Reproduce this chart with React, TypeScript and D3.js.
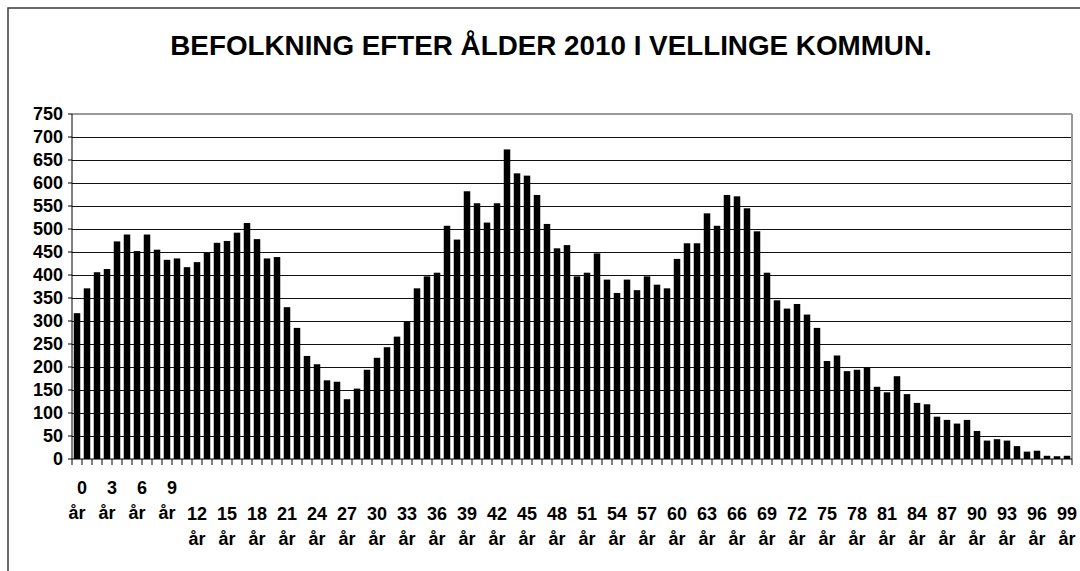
import React from "react";
import * as d3 from "d3";

const title = "BEFOLKNING EFTER ÅLDER 2010 I VELLINGE KOMMUN.";
const ages: number[] = d3.range(0, 100);
const categories: string[] = ages.map((a) => `${a} år`);
const population: number[] = [
  317, 371, 406, 413, 473, 488, 452, 488, 455, 433,
  436, 417, 428, 448, 470, 474, 492, 513, 478, 436,
  439, 330, 285, 224, 206, 171, 168, 130, 153, 194,
  220, 243, 266, 300, 371, 397, 405, 507, 477, 582,
  556, 514, 556, 673, 621, 616, 574, 511, 458, 465,
  397, 405, 447, 390, 361, 390, 367, 397, 379, 371,
  435, 469, 469, 534, 507, 574, 571, 545, 495, 405,
  345, 327, 337, 314, 285, 213, 225, 191, 194, 199,
  157, 145, 180, 141, 122, 119, 92, 85, 77, 85,
  61, 40, 43, 40, 28, 16, 18, 7, 6, 7,
];
const yTicks: number[] = d3.range(0, 751, 50);
const labelEvery = 3;

const W = 1080;
const H = 571;
const left = 72;
const right = 1072;
const top = 114;
const bottom = 459;
const font = "'Liberation Sans', Arial, Helvetica, sans-serif";

export default function App() {
  const x = d3
    .scaleBand<string>()
    .domain(categories)
    .range([left, right])
    .paddingInner(0.35)
    .paddingOuter(0.175);
  const y = d3.scaleLinear().domain([0, 750]).range([bottom, top]);
  const gap = (x.step() - x.bandwidth()) / 2;
  const boundaries = categories.map((c) => (x(c) as number) - gap).concat([right]);

  return (
    <svg
      width={W}
      height={H}
      style={{ position: "absolute", left: 0, top: 0, background: "#fff" }}
      fontFamily={font}
    >
      <rect x={0} y={0} width={W} height={H} fill="#fff" />
      {/* outer frame */}
      <rect x={8} y={8} width={1200} height={700} fill="none" stroke="#3a3a3a" strokeWidth={1.5} />

      <text x={551} y={55} textAnchor="middle" fontSize={27.8} fontWeight="bold" fill="#000">
        {title}
      </text>

      {/* gridlines */}
      {yTicks.filter((t) => t > 0 && t < 750).map((t) => (
        <line
          key={t}
          x1={left}
          x2={right}
          y1={y(t)}
          y2={y(t)}
          stroke="#111"
          strokeWidth={1}
          shapeRendering="crispEdges"
        />
      ))}
      {/* plot border top & right */}
      <line x1={left} x2={right} y1={y(750)} y2={y(750)} stroke="#9a9a9a" strokeWidth={2} />
      <line x1={right} x2={right} y1={y(750)} y2={bottom} stroke="#9a9a9a" strokeWidth={2} />

      {/* bars */}
      {population.map((v, i) => (
        <rect
          key={i}
          x={x(categories[i]) as number}
          y={y(v)}
          width={x.bandwidth()}
          height={bottom - y(v)}
          fill="#000"
        />
      ))}

      {/* y axis */}
      <line x1={left} x2={left} y1={y(750)} y2={bottom} stroke="#000" strokeWidth={1} />
      {yTicks.map((t) => (
        <g key={t}>
          <line x1={left - 4} x2={left} y1={y(t)} y2={y(t)} stroke="#000" strokeWidth={1} />
          <text
            x={63}
            y={y(t)}
            dy="0.36em"
            textAnchor="end"
            fontSize={18}
            fontWeight="bold"
            fill="#000"
          >
            {t}
          </text>
        </g>
      ))}

      {/* x axis */}
      <line x1={left} x2={right} y1={bottom} y2={bottom} stroke="#000" strokeWidth={1} />
      {boundaries.map((b, i) => (
        <line key={i} x1={b} x2={b} y1={bottom} y2={bottom + 6} stroke="#000" strokeWidth={1} />
      ))}
      {categories.map((c, i) => {
        if (i % labelEvery !== 0) return null;
        const cx = (x(c) as number) + x.bandwidth() / 2;
        const [num, unit] = c.split(" ");
        const single = num.length === 1;
        const y1 = single ? 494 : 520;
        return (
          <g key={c} fontSize={18} fontWeight="bold" fill="#000" textAnchor="middle">
            <text x={cx + (single ? 5 : 0)} y={y1}>{num}</text>
            <text x={cx} y={y1 + 25}>{unit}</text>
          </g>
        );
      })}
    </svg>
  );
}
